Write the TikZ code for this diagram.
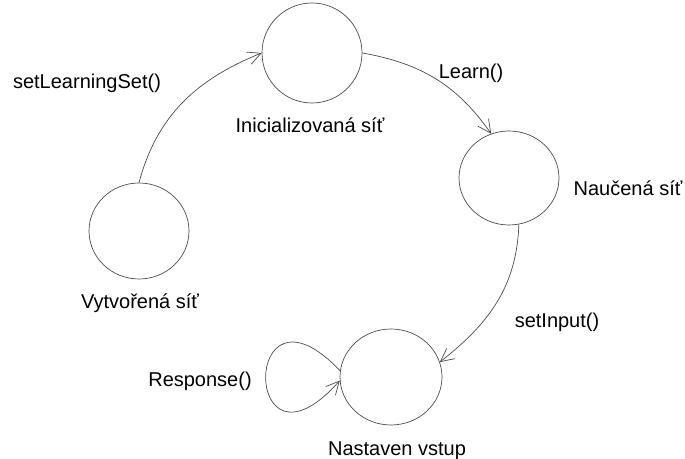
\documentclass[tikz,border=0pt]{standalone}
\usepackage{fontspec}
\setmainfont{Liberation Sans}
\usetikzlibrary{shapes.geometric,arrows.meta,calc}
\begin{document}
\begin{tikzpicture}[x=1bp,y=1bp,
  state/.style={ellipse,draw=black!70,line width=0.7bp,inner sep=0pt,minimum width=100bp,minimum height=96bp},
  lbl/.style={anchor=base,inner sep=0pt,font=\fontsize{20bp}{24bp}\selectfont},
  arr/.style={draw=black!70,line width=0.7bp,-{Straight Barb[length=13bp,width=13bp,line width=0.7bp]}}]
\useasboundingbox (0,0) rectangle (685,459);
\node[state] (V) at (139,228) {};
\node[state,minimum height=100bp] (I) at (312,406) {};
\node[state,minimum height=94bp] (N) at (509,281) {};
\node[state,minimum width=102bp] (S) at (391,82) {};
\node[lbl] (tV) at (140,150) {Vytvořená síť};
\node[lbl] (tI) at (310,326) {Inicializovaná síť};
\node[lbl] (tN) at (628,263) {Naučená síť};
\node[lbl] (tS) at (397,3) {Nastaven vstup};
\node[lbl] (lA) at (87,370) {setLearningSet()};
\node[lbl] (lB) at (471,380) {Learn()};
\node[lbl] (lC) at (557,131) {setInput()};
\node[lbl] (lD) at (200,72) {Response()};
\draw[arr] (V.north) to[out=75,in=202] (I.west);
\draw[arr] (I.east) to[out=-10,in=125] (N.112);
\draw[arr] (N.282) to[out=268,in=38] (S.17);
\draw[arr] (S.173) .. controls ($(S.173)+(-100,105)$) and ($(S.184)+(-98,-110)$) .. (S.184);
\end{tikzpicture}
\end{document}
